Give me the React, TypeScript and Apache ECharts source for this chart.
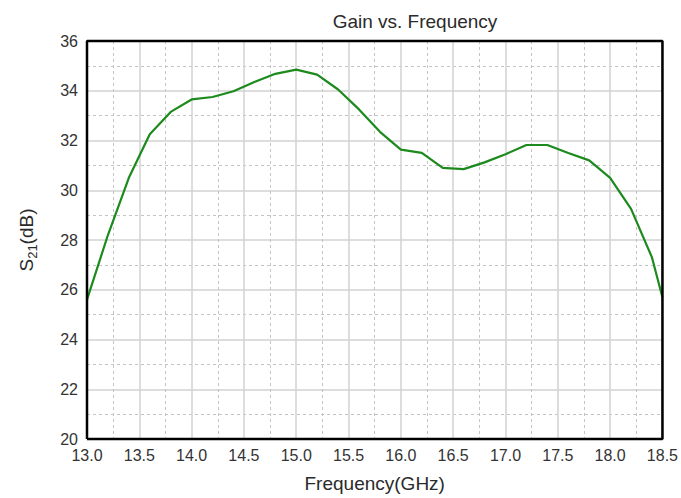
import React, { useEffect, useRef } from "react";
import * as echarts from "echarts";

const freqGHz = [13.0, 13.2, 13.4, 13.6, 13.8, 14.0, 14.2, 14.4, 14.6, 14.8, 15.0, 15.2, 15.4, 15.6, 15.8, 16.0, 16.2, 16.4, 16.6, 16.8, 17.0, 17.2, 17.4, 17.6, 17.8, 18.0, 18.2, 18.4, 18.5];
const gainDb = [25.6, 28.2, 30.5, 32.25, 33.15, 33.65, 33.75, 33.98, 34.35, 34.68, 34.85, 34.65, 34.05, 33.25, 32.35, 31.63, 31.5, 30.9, 30.85, 31.12, 31.45, 31.82, 31.82, 31.5, 31.2, 30.5, 29.25, 27.3, 25.7];

const xRange = [13, 18.5];
const yRange = [20, 36];
const titleText = "Gain vs. Frequency";
const xAxisName = "Frequency(GHz)";

export default function App() {
  const ref = useRef<HTMLDivElement>(null);
  useEffect(() => {
    if (!ref.current) return;
    const chart = echarts.init(ref.current, undefined, { renderer: "svg" });
    const font = "Liberation Sans, Arial, sans-serif";
    const major = { show: true, lineStyle: { color: "#d2d2d2", width: 1.5 } };
    const minor = { show: true, lineStyle: { color: "#c4c4c4", type: [3, 3], width: 1 } };
    chart.setOption({
      animation: false,
      backgroundColor: "#fff",
      title: {
        text: titleText,
        left: 410,
        top: 7,
        textAlign: "center",
        textStyle: { fontFamily: font, fontSize: 19, fontWeight: "normal", color: "#2a2a2a" },
      },
      grid: {
        left: 87,
        right: 18,
        top: 41,
        bottom: 58,
        show: false,
        containLabel: false,
      },
      xAxis: {
        type: "value",
        min: xRange[0],
        max: xRange[1],
        interval: 0.5,
        name: xAxisName,
        nameLocation: "middle",
        nameGap: 35,
        nameTextStyle: { fontFamily: font, fontSize: 19, color: "#2a2a2a" },
        axisLine: { show: false },
        axisTick: { show: false },
        axisLabel: {
          formatter: (v: number) => v.toFixed(1),
          fontFamily: font,
          fontSize: 16,
          color: "#333",
          margin: 8,
        },
        splitLine: major,
        minorTick: { show: false, splitNumber: 2 },
        minorSplitLine: minor,
      },
      yAxis: {
        type: "value",
        min: yRange[0],
        max: yRange[1],
        interval: 2,
        name: "{a|S}{b|21}{a|(dB)}",
        nameLocation: "middle",
        nameGap: 48,
        nameRotate: 90,
        nameTextStyle: {
          fontFamily: font,
          color: "#2a2a2a",
          rich: {
            a: { fontFamily: font, fontSize: 19, color: "#2a2a2a", lineHeight: 26 },
            b: { fontFamily: font, fontSize: 13, color: "#2a2a2a", verticalAlign: "bottom", lineHeight: 26 },
          },
        },
        axisLine: { show: false },
        axisTick: { show: false },
        axisLabel: { fontFamily: font, fontSize: 16, color: "#333", margin: 9 },
        splitLine: major,
        minorTick: { show: false, splitNumber: 2 },
        minorSplitLine: minor,
      },
      series: [
        {
          type: "line",
          data: freqGHz.map((f, i) => [f, gainDb[i]]),
          showSymbol: false,
          lineStyle: { color: "#1c8a1c", width: 2.2 },
          itemStyle: { color: "#1c8a1c" },
          z: 3,
        },
        {
          type: "line",
          data: [
            [xRange[0], yRange[0]],
            [xRange[0], yRange[1]],
            [xRange[1], yRange[1]],
            [xRange[1], yRange[0]],
            [xRange[0], yRange[0]],
          ],
          showSymbol: false,
          silent: true,
          clip: false,
          lineStyle: { color: "#000000", width: 2.5, opacity: 1 },
          itemStyle: { color: "#000000" },
          z: 10,
        },
      ],
    });
    return () => chart.dispose();
  }, []);
  return <div ref={ref} style={{ width: 681, height: 498, position: "absolute", left: 0, top: 0 }} />;
}
